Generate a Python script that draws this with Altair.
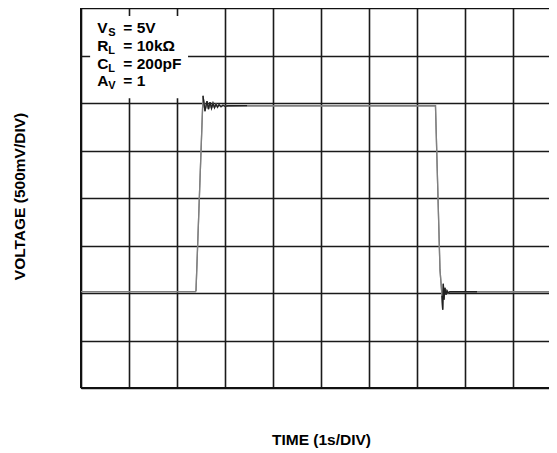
import altair as alt
import pandas as pd

# ---- grid (divisions) ----
X_MAX = 9.75           # visible part of the 10-division screen
grid_x = [0, 1, 2, 3, 4, 5, 6, 7, 8, 9]
grid_y = [0, 1, 2, 3, 4, 5, 6, 7, 8]

# ---- waveform (divisions) ----
trace_x = [0.0, 2.385, 2.396, 2.542, 2.583, 2.625, 2.656, 2.6875, 2.719, 2.75,
           2.781, 2.8125, 2.844, 2.875, 2.917, 2.958, 3.0, 3.0625, 7.385,
           7.479, 7.521, 7.535, 7.548, 7.5625, 7.583, 7.604, 7.625, 7.646,
           7.6875, 9.75]
trace_y = [2.03, 2.03, 2.05, 6.151, 5.828, 6.037, 5.869, 6.016, 5.890, 5.995,
           5.900, 5.974, 5.911, 5.963, 5.921, 5.953, 5.932, 5.942, 5.945,
           2.486, 1.943, 1.650, 2.193, 1.859, 2.110, 1.963, 2.047, 2.005,
           2.026, 2.026]

# darker (overlapping) parts of the trace around the ringing
dark_x = [2.542, 2.583, 2.625, 2.656, 2.6875, 2.719, 2.75, 2.781, 2.8125,
          2.844, 2.875, 2.917, 2.958, 3.0, 3.0625, 3.46,
          7.521, 7.535, 7.548, 7.5625, 7.583, 7.604, 7.625, 7.646, 7.6875, 8.25]
dark_y = [6.151, 5.828, 6.037, 5.869, 6.016, 5.890, 5.995, 5.900, 5.974,
          5.911, 5.963, 5.921, 5.953, 5.932, 5.942, 5.945,
          1.943, 1.650, 2.193, 1.859, 2.110, 1.963, 2.047, 2.005, 2.026, 2.026]
dark_seg = ["rise"] * 16 + ["fall"] * 10

# ---- legend box text ----
leg_main = ["V", "R", "C", "A"]
leg_sub = ["S", "L", "L", "V"]
leg_rest = ["= 5V", "= 10kΩ", "= 200pF", "= 1"]
leg_y = [7.47, 7.095, 6.725, 6.35]
leg_x = 0.34
box = {"x": [0.19], "x2": [2.23], "y": [6.10], "y2": [7.83]}

FONT = "Liberation Sans"

xs = alt.Scale(domain=[0, X_MAX], nice=False, zero=False)
ys = alt.Scale(domain=[0, 8], nice=False, zero=False)

df_trace = pd.DataFrame({"t": trace_x, "v": trace_y, "i": range(len(trace_x))})
df_dark = pd.DataFrame({"t": dark_x, "v": dark_y, "seg": dark_seg,
                        "i": range(len(dark_x))})
df_box = pd.DataFrame(box)
df_leg = pd.DataFrame({"main": leg_main, "sub": leg_sub, "rest": leg_rest,
                       "y": leg_y, "x": [leg_x] * 4})
df_border = pd.DataFrame({"x": [0, 0, 0], "x2": [0, X_MAX, X_MAX],
                          "y": [0, 8, 0], "y2": [8, 8, 0]})

base_axes_x = alt.Axis(values=grid_x, grid=True, labels=False, ticks=False,
                       domain=False, title="TIME (1s/DIV)", titleFont=FONT,
                       titleFontSize=15.5, titleFontWeight="bold",
                       titleColor="#000", titleBaseline="alphabetic",
                       titleX=240, titleY=56)
base_axes_y = alt.Axis(values=grid_y, grid=True, labels=False, ticks=False,
                       domain=False, title="VOLTAGE (500mV/DIV)", titleFont=FONT,
                       titleFontSize=15.5, titleFontWeight="bold",
                       titleColor="#000", titleBaseline="alphabetic",
                       titleAngle=-90, titleX=-57, titleY=188)

trace = alt.Chart(df_trace).mark_line(color="#808080", strokeWidth=1.3).encode(
    x=alt.X("t:Q", scale=xs, axis=base_axes_x),
    y=alt.Y("v:Q", scale=ys, axis=base_axes_y),
    order="i:Q",
)

border = alt.Chart(df_border).mark_rule(color="#111", strokeWidth=2).encode(
    x="x:Q", x2="x2:Q", y="y:Q", y2="y2:Q")

whitebox = alt.Chart(df_box).mark_rect(color="white").encode(
    x="x:Q", x2="x2:Q", y="y:Q", y2="y2:Q")

dark = alt.Chart(df_dark).mark_line(color="#222", strokeWidth=1.3).encode(
    x="t:Q", y="v:Q", detail="seg:N", order="i:Q")

txt_main = alt.Chart(df_leg).mark_text(
    font=FONT, fontSize=15.5, fontWeight="bold", align="left",
    baseline="alphabetic", color="#000").encode(x="x:Q", y="y:Q", text="main:N")
txt_sub = alt.Chart(df_leg).mark_text(
    font=FONT, fontSize=11, fontWeight="bold", align="left",
    baseline="alphabetic", color="#000", dx=11, dy=3).encode(
    x="x:Q", y="y:Q", text="sub:N")
txt_rest = alt.Chart(df_leg).mark_text(
    font=FONT, fontSize=15.5, fontWeight="bold", align="left",
    baseline="alphabetic", color="#000", dx=26).encode(
    x="x:Q", y="y:Q", text="rest:N")

chart = alt.layer(trace, whitebox, border, trace, dark, txt_main, txt_sub,
                  txt_rest).properties(
    width=468, height=380,
    autosize=alt.AutoSizeParams(type="none"),
    padding={"left": 73, "top": 0, "right": 0, "bottom": 61},
    background="white",
).configure_view(strokeWidth=0).configure_axis(
    gridColor="#1a1a1a", gridWidth=1.6, gridOpacity=1)

chart.save("out.html", embed_options={"renderer": "svg", "actions": False})
